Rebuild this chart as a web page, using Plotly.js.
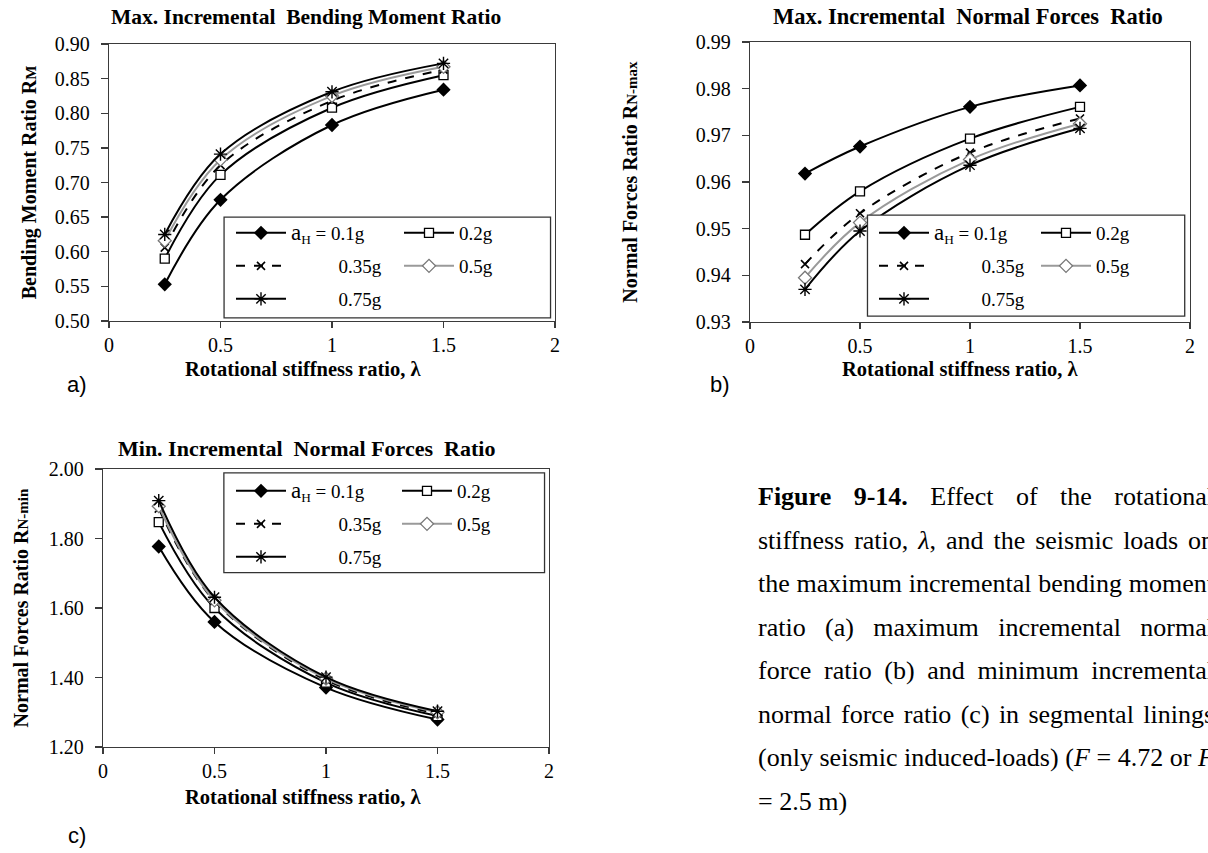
<!DOCTYPE html>
<html>
<head>
<meta charset="utf-8">
<script src="https://cdn.plot.ly/plotly-3.0.1.min.js"></script>
<style>
  html, body { margin: 0; padding: 0; background: #fff; overflow: hidden; width: 1208px; height: 853px; }
  #chart { position: absolute; left: 0; top: 0; width: 1208px; height: 853px; }
  #caption { position: absolute; left: 758px; top: 475px; width: 456px; font-family: "Liberation Serif", "Times New Roman", serif; font-size: 26px; line-height: 43.5px; color: #000; }
  #caption .ln { text-align: justify; text-align-last: justify; height: 43.5px; white-space: nowrap; }
  #caption .last { text-align: left; text-align-last: left; }
</style>
</head>
<body>
<div id="chart"></div>
<div id="caption">
  <div class="ln"><b>Figure 9-14.</b> Effect of the rotational</div>
  <div class="ln">stiffness ratio, <i>λ</i>, and the seismic loads on</div>
  <div class="ln">the maximum incremental bending moment</div>
  <div class="ln">ratio (a) maximum incremental normal</div>
  <div class="ln">force ratio (b) and minimum incremental</div>
  <div class="ln">normal force ratio (c) in segmental linings</div>
  <div class="ln">(only seismic induced-loads) (<i>F</i> = 4.72 or <i>F</i></div>
  <div class="ln last">= 2.5 m)</div>
</div>
<script>
// ---- data ----
const lambdaVals = [0.25, 0.5, 1, 1.5];
const seriesNames = ["<span style='font-size:23px'>a</span><sub>H</sub> = 0.1g", "0.2g", "\u2003\u2003\u20020.35g", "0.5g", "\u2003\u2003\u20020.75g"];

// (a) Max. incremental bending moment ratio
const bm01  = [0.553, 0.675, 0.783, 0.834];
const bm02  = [0.590, 0.711, 0.808, 0.855];
const bm035 = [0.606, 0.725, 0.818, 0.863];
const bm05  = [0.616, 0.733, 0.825, 0.867];
const bm075 = [0.625, 0.741, 0.831, 0.872];

// (b) Max. incremental normal forces ratio
const nmax01  = [0.9618, 0.9676, 0.9761, 0.9807];
const nmax02  = [0.9487, 0.9580, 0.9693, 0.9761];
const nmax035 = [0.9424, 0.9533, 0.9663, 0.9736];
const nmax05  = [0.9395, 0.9513, 0.9648, 0.9725];
const nmax075 = [0.9370, 0.9495, 0.9636, 0.9715];

// (c) Min. incremental normal forces ratio
const nmin01  = [1.777, 1.560, 1.371, 1.279];
const nmin02  = [1.847, 1.600, 1.385, 1.289];
const nmin035 = [1.886, 1.620, 1.393, 1.296];
const nmin05  = [1.893, 1.622, 1.397, 1.300];
const nmin075 = [1.909, 1.631, 1.401, 1.303];

// ---- styles ----
const styles = [
  {line: {color: "#000", width: 2, shape: "spline"}, marker: {symbol: "diamond", size: 11, color: "#000", line: {width: 0}}},
  {line: {color: "#000", width: 2, shape: "spline"}, marker: {symbol: "square", size: 9, color: "#fff", line: {width: 1.3, color: "#000"}}},
  {line: {color: "#000", width: 2, dash: "dash", shape: "spline"}, marker: {symbol: "x-thin", size: 8, color: "#000", line: {width: 1.6, color: "#000"}}},
  {line: {color: "#9a9a9a", width: 2, shape: "spline"}, marker: {symbol: "diamond", size: 10, color: "#fff", line: {width: 1.3, color: "#777"}}},
  {line: {color: "#000", width: 2, shape: "spline"}, marker: {symbol: "asterisk", size: 11, color: "#000", line: {width: 1.4, color: "#000"}}}
];

const panels = [
  {data: [bm01, bm02, bm035, bm05, bm075], xa: "x", ya: "y", legends: ["legend", "legend", "legend2", "legend2", "legend3"]},
  {data: [nmax01, nmax02, nmax035, nmax05, nmax075], xa: "x2", ya: "y2", legends: ["legend4", "legend4", "legend5", "legend5", "legend6"]},
  {data: [nmin01, nmin02, nmin035, nmin05, nmin075], xa: "x3", ya: "y3", legends: ["legend7", "legend7", "legend8", "legend8", "legend9"]}
];

const traces = [];
panels.forEach(p => {
  p.data.forEach((vals, i) => {
    traces.push({
      type: "scatter", mode: "lines+markers",
      x: lambdaVals, y: vals, name: seriesNames[i],
      xaxis: p.xa, yaxis: p.ya, legend: p.legends[i],
      line: Object.assign({smoothing: 1}, styles[i].line),
      marker: styles[i].marker,
      cliponaxis: false
    });
  });
});

const W = 1208, H = 853;
const px = v => v / W;
const py = v => 1 - v / H;
const serif = "Liberation Serif, Times New Roman, serif";
const axColor = "#3a3a3a";

function xAxis(d0, d1, anchor) {
  return {
    domain: [px(d0), px(d1)], anchor: anchor, range: [0, 2], dtick: 0.5, tick0: 0,
    showgrid: false, zeroline: false, showline: true, mirror: true,
    linecolor: axColor, linewidth: 1.3, ticks: "outside", ticklen: 6, tickwidth: 1.3, tickcolor: axColor,
    tickfont: {family: serif, size: 20, color: "#000"}, ticklabelstandoff: 0,
    fixedrange: true
  };
}
function yAxis(d0, d1, anchor, r, dt, title, standoff) {
  return {
    domain: [py(d1), py(d0)], anchor: anchor, range: r, dtick: dt, tick0: r[0], tickformat: ".2f",
    showgrid: false, zeroline: false, showline: true, mirror: true,
    linecolor: axColor, linewidth: 1.3, ticks: "outside", ticklen: 7, tickwidth: 1.3, tickcolor: axColor,
    tickfont: {family: serif, size: 20, color: "#000"}, ticklabelstandoff: 7,
    title: {text: title, font: {family: serif, size: 20, color: "#000"}, standoff: standoff},
    fixedrange: true
  };
}

function legendRow(xPix, yPix, ew) {
  return {
    orientation: "h", x: px(xPix), y: py(yPix), xanchor: "left", yanchor: "middle",
    xref: "paper", yref: "paper",
    bgcolor: "rgba(0,0,0,0)", borderwidth: 0, itemwidth: 50,
    entrywidth: ew, entrywidthmode: "pixels",
    font: {family: serif, size: 19, color: "#000"},
    itemclick: false, itemdoubleclick: false, tracegroupgap: 0
  };
}

const titleFont = {family: serif, size: 21.5, color: "#000"};
const axTitleFont = {family: serif, size: 20.5, color: "#000"};
const labFont = {family: "Liberation Sans, Arial, sans-serif", size: 22, color: "#000"};
function ann(text, xPix, yPix, font) {
  return {text: text, x: px(xPix), y: py(yPix), xref: "paper", yref: "paper", showarrow: false, xanchor: "center", yanchor: "middle", font: font};
}
const annotations = [
  ann("<b>Max. Incremental  Bending Moment Ratio</b>", 306, 17, titleFont),
  ann("<b>Max. Incremental  Normal Forces  Ratio</b>", 968, 17, {family: serif, size: 22.5, color: "#000"}),
  ann("<b>Min. Incremental  Normal Forces  Ratio</b>", 306, 449, {family: serif, size: 22, color: "#000"}),
  ann("<b>Rotational stiffness ratio, λ</b>", 303, 369, axTitleFont),
  ann("<b>Rotational stiffness ratio, λ</b>", 960, 369, axTitleFont),
  ann("<b>Rotational stiffness ratio, λ</b>", 303, 797, axTitleFont),
  ann("a)", 77, 385, labFont),
  ann("b)", 720, 385, labFont),
  ann("c)", 77, 835, labFont)
];

const boxLine = {color: "#333", width: 1.3};
const shapes = [
  {type: "rect", xref: "x domain", yref: "y domain", x0: 0.258, x1: 0.99, y0: 0.011, y1: 0.375, line: boxLine, fillcolor: "#fff", layer: "above"},
  {type: "rect", xref: "x2 domain", yref: "y2 domain", x0: 0.267, x1: 0.988, y0: 0.021, y1: 0.382, line: boxLine, fillcolor: "#fff", layer: "above"},
  {type: "rect", xref: "x3 domain", yref: "y3 domain", x0: 0.271, x1: 0.99, y0: 0.627, y1: 0.986, line: boxLine, fillcolor: "#fff", layer: "above"}
];

const layout = {
  width: W, height: H, margin: {l: 0, r: 0, t: 0, b: 0},
  paper_bgcolor: "#fff", plot_bgcolor: "#fff", showlegend: true,
  font: {family: serif, color: "#000"},
  xaxis: xAxis(109, 555, "y"),
  yaxis: yAxis(44, 321, "x", [0.5, 0.9], 0.05, "<b>Bending Moment Ratio R<span style='font-size:15px'>M</span></b>", 12),
  xaxis2: xAxis(750, 1190, "y2"),
  yaxis2: yAxis(42, 322, "x2", [0.93, 0.99], 0.01, "<b>Normal Forces Ratio R<span style='font-size:15px'>N-max</span></b>", 52),
  xaxis3: xAxis(103, 549, "y3"),
  yaxis3: yAxis(469, 747, "x3", [1.2, 2.0], 0.2, "<b>Normal Forces Ratio R<span style='font-size:15px'>N-min</span></b>", 14),
  legend: legendRow(231, 233, 103), legend2: legendRow(231, 266, 103), legend3: legendRow(231, 299, 103),
  legend4: legendRow(874, 233, 97), legend5: legendRow(874, 266, 97), legend6: legendRow(874, 299, 97),
  legend7: legendRow(231, 491, 101), legend8: legendRow(231, 524, 101), legend9: legendRow(231, 557, 101),
  annotations: annotations, shapes: shapes
};

Plotly.newPlot("chart", traces, layout, {displayModeBar: false, staticPlot: true});
</script>
</body>
</html>
